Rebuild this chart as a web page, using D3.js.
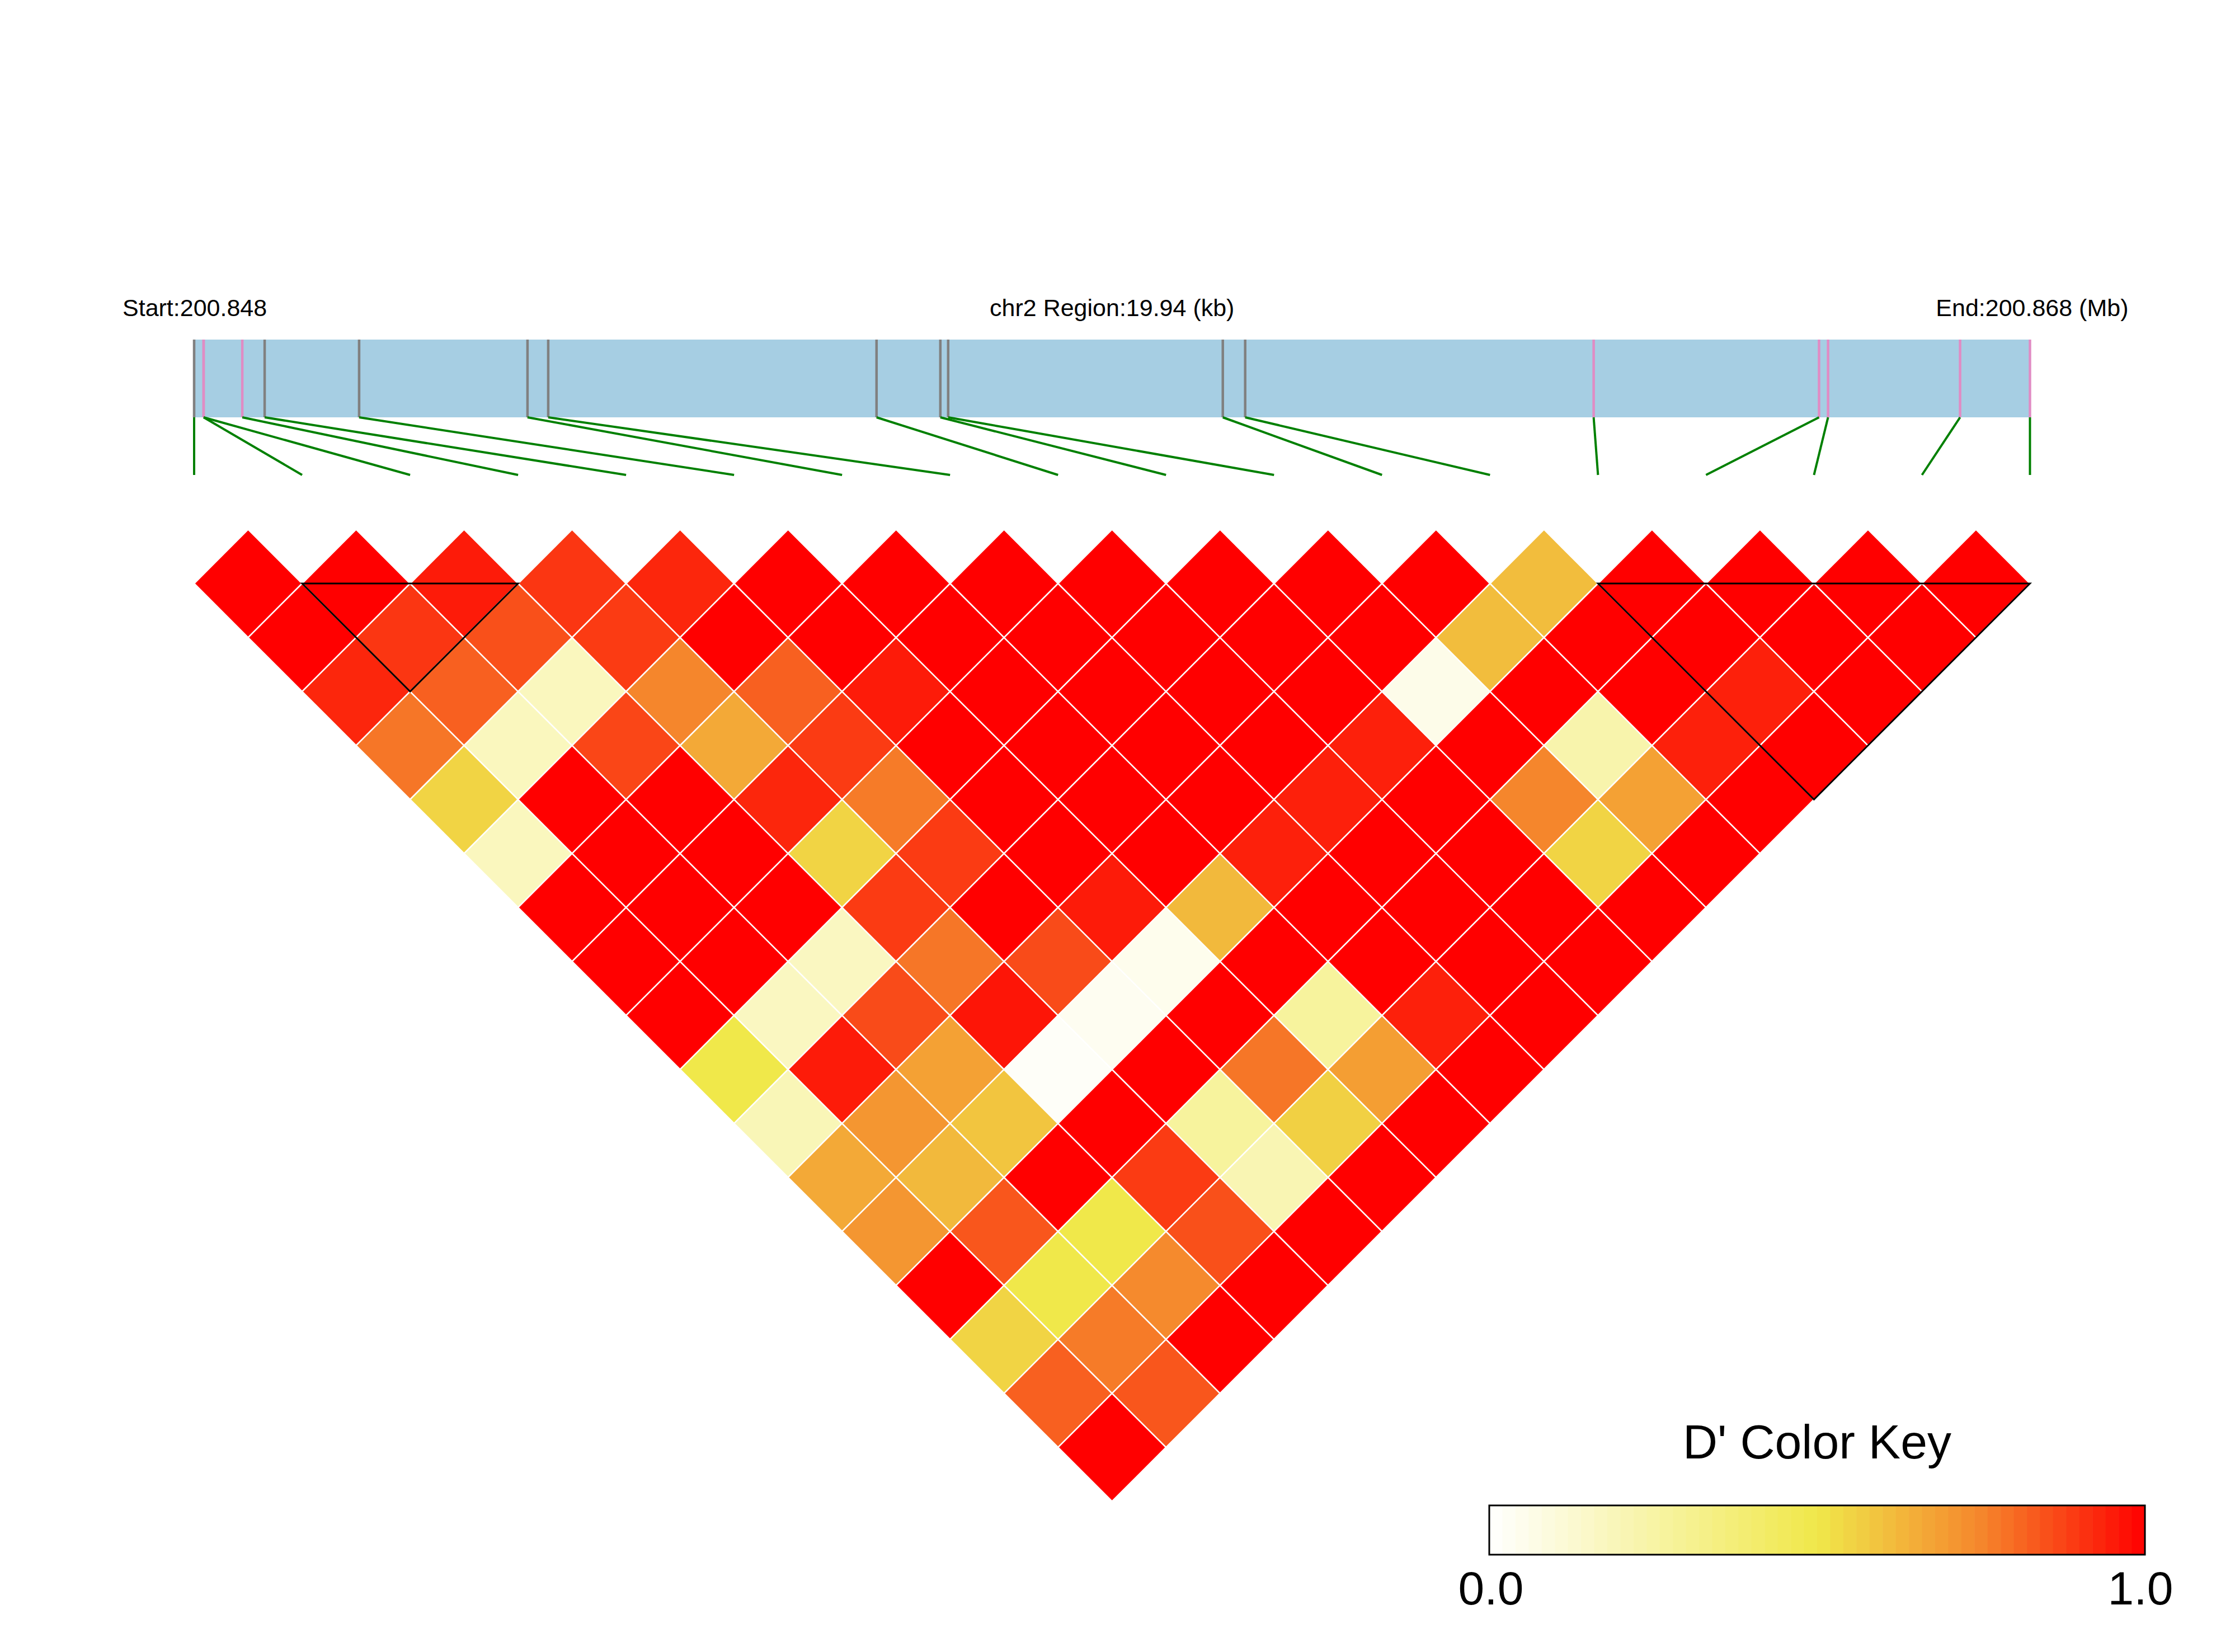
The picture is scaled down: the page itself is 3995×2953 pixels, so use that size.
<!DOCTYPE html>
<html><head><meta charset="utf-8">
<script src="https://cdn.jsdelivr.net/npm/d3@7"></script>
<style>
body{margin:0;background:#fff}
svg{display:block}
text{font-family:"Liberation Sans",Arial,Helvetica,sans-serif;fill:#000}
</style>
</head><body>
<svg id="chart" width="3995" height="2953"></svg>
<script>
// ---------------- data ----------------
const chromosome = "chr2";
const regionStartMb = 200.848;
const regionEndMb = 200.868;
const regionKb = 19.94;
// SNP physical offsets from region start (kb)
const snpOffsetKb = [0, 0.103, 0.103, 0.523, 0.766, 1.792, 3.621, 3.846, 7.412,
  8.105, 8.190, 11.173, 11.416, 15.201, 17.649, 17.747, 19.181, 19.94];
// LD blocks (first SNP index, last SNP index)
const ldBlocks = [[1, 3], [13, 17]];
// D' values: row i holds pairs (i, i+1), (i, i+2), ... (i, 17)
const dprimeRows = [
  [1, 1, 0.93, 0.78, 0.55, 0.18, 1, 1, 1, 0.5, 0.2, 0.66, 0.71, 1, 0.55, 0.82, 1],
  [1, 0.9, 0.82, 0.18, 1, 1, 1, 1, 0.17, 0.95, 0.71, 0.62, 0.84, 0.5, 0.77, 0.84],
  [0.95, 0.85, 0.18, 0.87, 1, 1, 1, 0.17, 0.86, 0.68, 0.59, 1, 0.5, 0.74, 1],
  [0.9, 0.89, 0.75, 0.66, 0.93, 0.55, 0.89, 0.78, 0.96, 0.02, 1, 0.89, 0.85, 1],
  [0.93, 1, 0.82, 0.89, 0.77, 0.89, 1, 0.86, 0.04, 1, 0.27, 0.21, 1],
  [1, 1, 0.95, 1, 1, 1, 0.95, 0.05, 1, 0.78, 0.56, 1],
  [1, 1, 1, 1, 1, 1, 0.62, 1, 0.27, 0.69, 1],
  [1, 1, 1, 1, 1, 0.94, 1, 1, 0.94, 1],
  [1, 1, 1, 1, 0.94, 1, 1, 1, 1],
  [1, 1, 1, 0.94, 1, 1, 1, 1],
  [1, 1, 0.06, 1, 0.75, 0.55, 1],
  [1, 0.61, 1, 0.23, 0.68, 1],
  [0.61, 1, 1, 0.94, 1],
  [1, 1, 0.94, 1],
  [1, 1, 1],
  [1, 1],
  [1]
];
const keyTicks = [0, 1];
const keyTitle = "D' Color Key";

// ---------------- layout ----------------
const svg = d3.select("#chart");
const nSnp = snpOffsetKb.length;
const xIdx = d3.scaleLinear().domain([0, nSnp - 1]).range([347, 3628.5]);
const xPhys = d3.scaleLinear().domain([0, regionKb]).range([347, 3628.5]);
const half = (xIdx(1) - xIdx(0)) / 2;
const yDist = d3.scaleLinear().domain([1, 2]).range([1043, 1043 + half]);
const color = d3.scaleLinear()
  .domain([0, 0.5, 0.75, 1])
  .range(["#ffffff", "#f0e84a", "#f5862c", "#ff0000"]);

// header texts
const fs = 43, yText = 565;
svg.append("text").attr("x", xIdx(0) - 128).attr("y", yText)
  .attr("font-size", fs).text("Start:" + regionStartMb.toFixed(3));
svg.append("text").attr("x", (xIdx(0) + xIdx(nSnp - 1)) / 2).attr("y", yText)
  .attr("font-size", fs).attr("text-anchor", "middle")
  .text(chromosome + " Region:" + regionKb + " (kb)");
svg.append("text").attr("x", xIdx(nSnp - 1) + 176).attr("y", yText)
  .attr("font-size", fs).attr("text-anchor", "end")
  .text("End:" + regionEndMb.toFixed(3) + " (Mb)");

// region bar
const barTop = 607, barBot = 746, lineBot = 849;
svg.append("rect").attr("x", xPhys(0)).attr("y", barTop)
  .attr("width", xPhys(regionKb) - xPhys(0)).attr("height", barBot - barTop)
  .attr("fill", "#a6cee3");

const inBlock = i => ldBlocks.some(([a, b]) => i >= a && i <= b);
const snps = snpOffsetKb.map((kb, i) => ({i, kb}));
svg.append("g").selectAll("line").data(snps).join("line")
  .attr("x1", d => xPhys(d.kb)).attr("x2", d => xPhys(d.kb))
  .attr("y1", barTop).attr("y2", barBot)
  .attr("stroke", d => inBlock(d.i) ? "#e08cc4" : "#808080")
  .attr("stroke-width", 4.5);
svg.append("g").selectAll("line").data(snps).join("line")
  .attr("x1", d => xPhys(d.kb)).attr("y1", barBot)
  .attr("x2", d => xIdx(d.i)).attr("y2", lineBot)
  .attr("stroke", "#008000").attr("stroke-width", 4);

// LD cells
const cells = [];
dprimeRows.forEach((row, i) => row.forEach((v, k) => cells.push({i, j: i + k + 1, v})));
svg.append("g").selectAll("path").data(cells).join("path")
  .attr("d", d => {
    const cx = xIdx((d.i + d.j) / 2), cy = yDist(d.j - d.i);
    return `M${cx},${cy - half}L${cx + half},${cy}L${cx},${cy + half}L${cx - half},${cy}Z`;
  })
  .attr("fill", d => color(d.v))
  .attr("stroke", "#fff").attr("stroke-width", 2.5);

// block outlines
svg.append("g").selectAll("path").data(ldBlocks).join("path")
  .attr("d", ([a, b]) => {
    const xa = xIdx(a), xb = xIdx(b), y0 = yDist(1);
    return `M${xa},${y0}L${xb},${y0}L${(xa + xb) / 2},${y0 + (b - a) * half}Z`;
  })
  .attr("fill", "none").attr("stroke", "#000").attr("stroke-width", 3);

// color key
const kx = d3.scaleLinear().domain([0, 1]).range([2662, 3834]);
const kTop = 2691, kBot = 2779, nBands = 50;
const bands = d3.range(nBands).map(b => ({a: b / nBands, b: (b + 1) / nBands}));
svg.append("g").selectAll("rect").data(bands).join("rect")
  .attr("x", d => kx(d.a)).attr("y", kTop)
  .attr("width", d => kx(d.b) - kx(d.a) + 0.6).attr("height", kBot - kTop)
  .attr("fill", d => color((d.a + d.b) / 2));
svg.append("rect").attr("x", kx(0)).attr("y", kTop)
  .attr("width", kx(1) - kx(0)).attr("height", kBot - kTop)
  .attr("fill", "none").attr("stroke", "#000").attr("stroke-width", 3);
svg.append("text").attr("x", (kx(0) + kx(1)) / 2).attr("y", 2607)
  .attr("font-size", 86).attr("text-anchor", "middle").text(keyTitle);
svg.append("g").selectAll("text").data(keyTicks).join("text")
  .attr("x", d => kx(d) - (d === 1 ? 8 : -3)).attr("y", 2868)
  .attr("font-size", 84).attr("text-anchor", "middle")
  .text(d => d3.format(".1f")(d));
</script>
</body></html>
